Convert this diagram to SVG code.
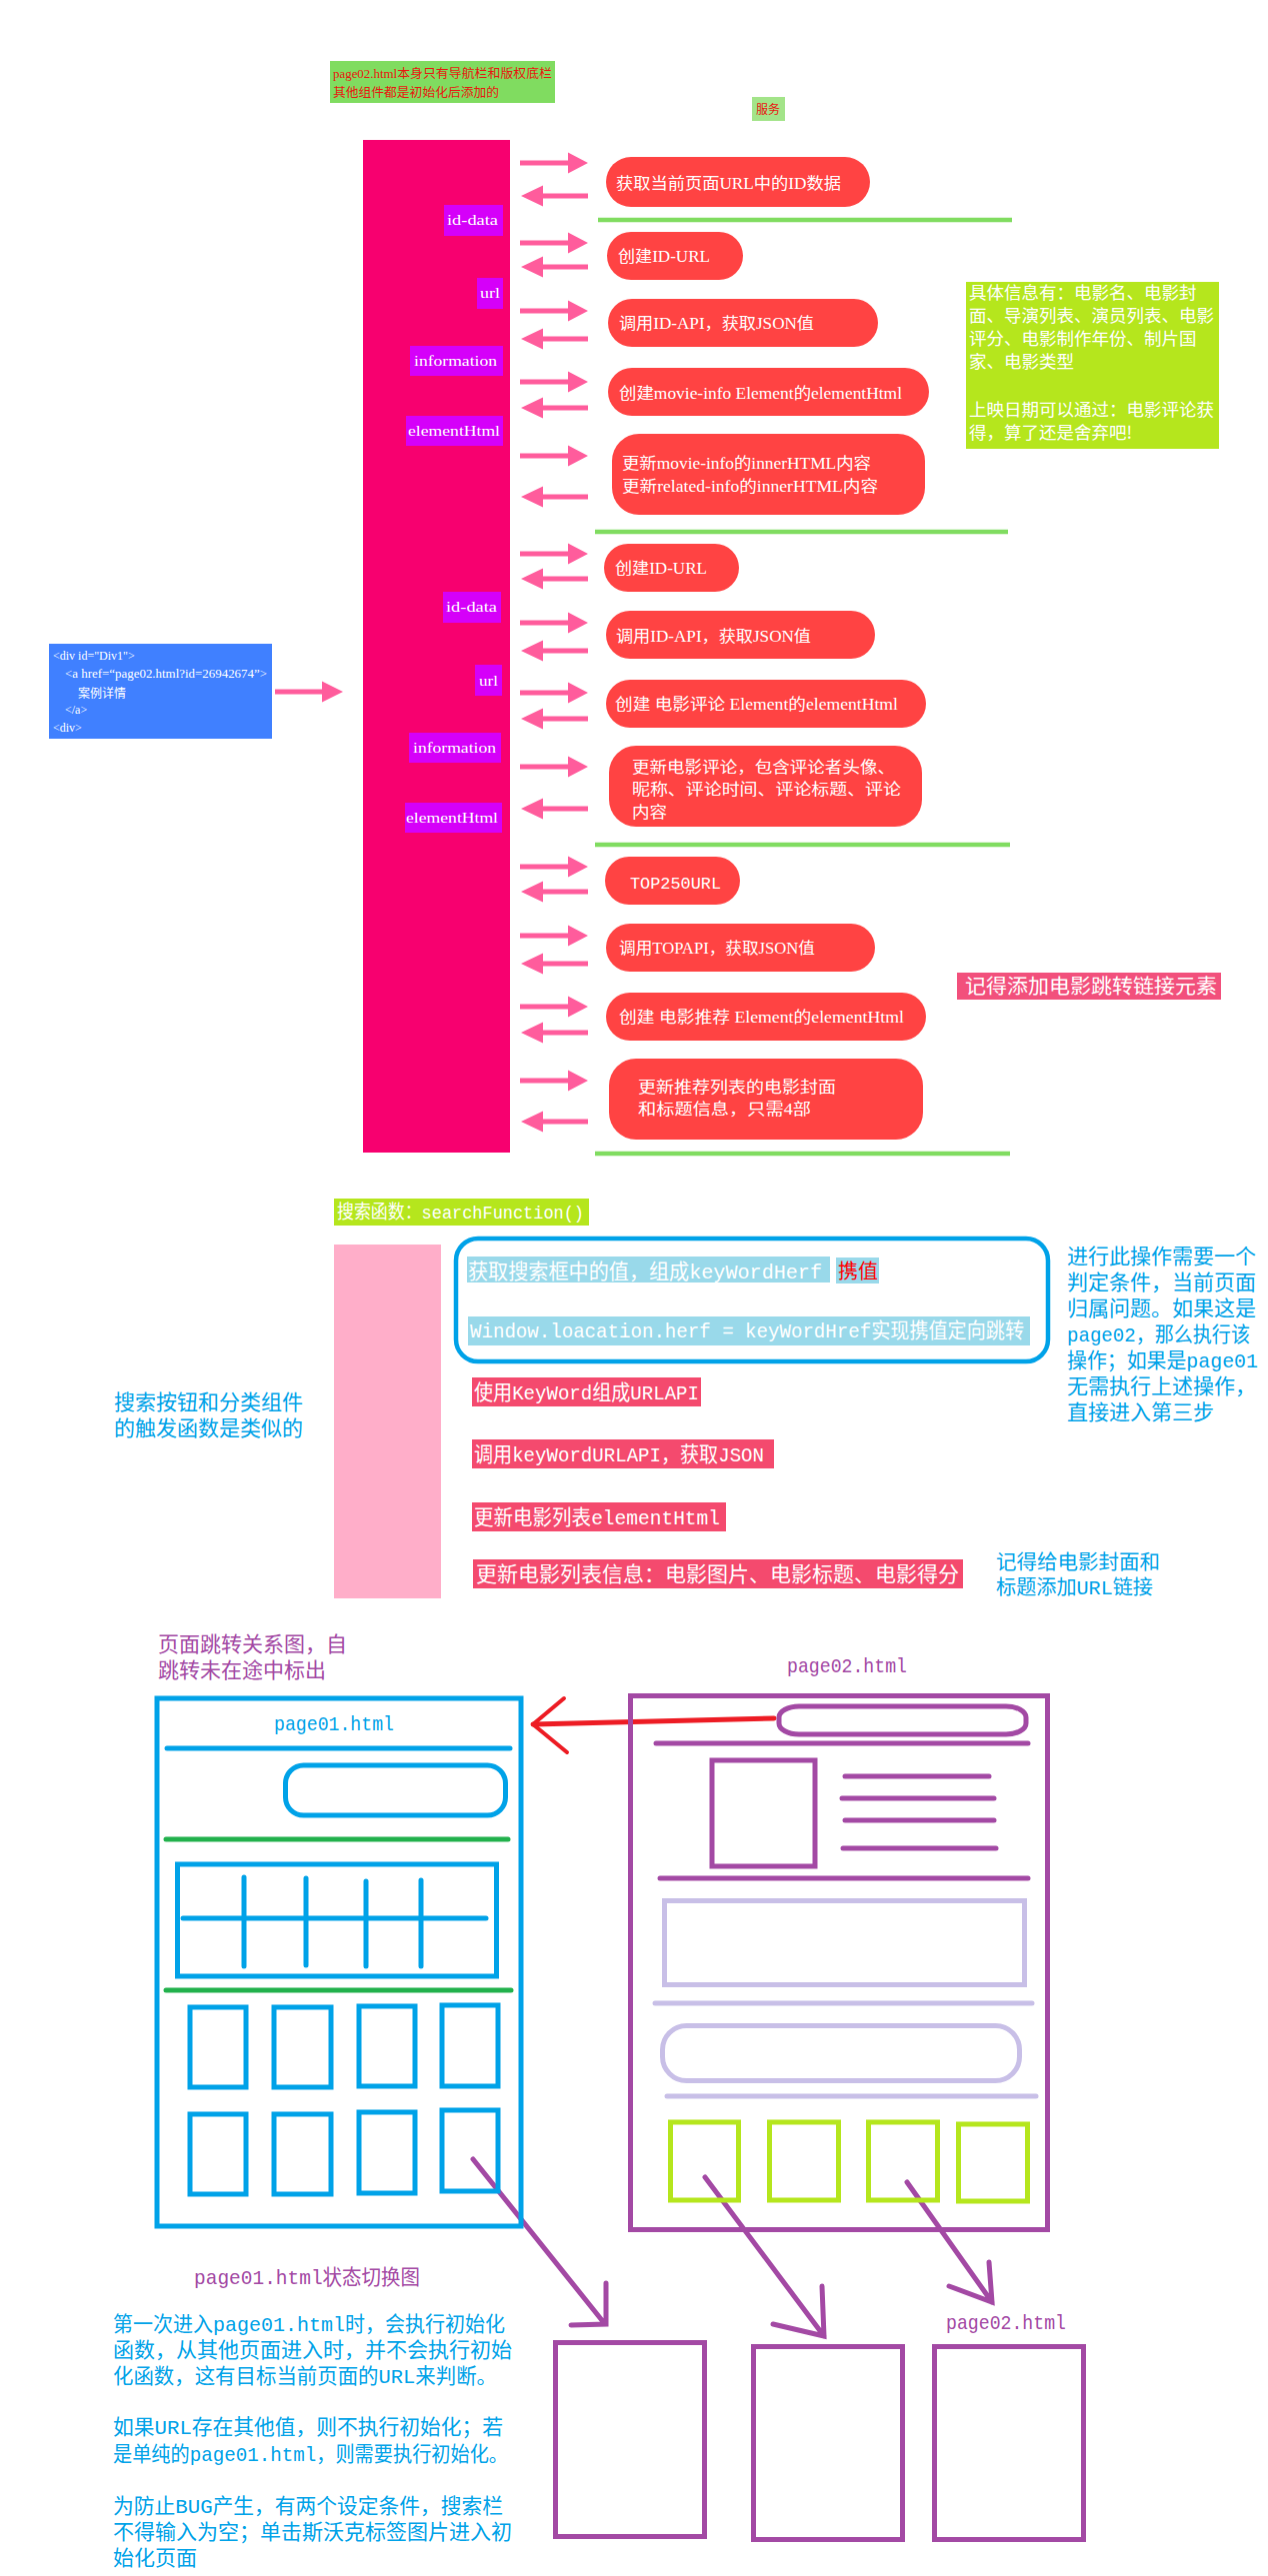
<svg xmlns="http://www.w3.org/2000/svg" width="1268" height="2577" viewBox="0 0 1268 2577">
<style>
.rb{fill:#ff4343}
.rt{font-family:"Liberation Serif","Noto Sans CJK SC",serif;font-size:16px;fill:#fff}
.lb{fill:#d500f9}
.lt{font-family:"Liberation Serif",serif;font-size:15px;fill:#fff}
.gl{stroke:#80dc60;stroke-width:4.5}
.ar{fill:#ff5c9c}
.mono{font-family:"Liberation Mono","Noto Sans CJK SC",monospace}
.cj{font-family:"Noto Sans CJK SC","Liberation Mono",sans-serif}
.pr{fill:#f44a6e}
.lbx{fill:#99d9ea}
.w{fill:#fff}
.fb{fill:#00a2e8}
.fp{fill:#a349a4}
.sb{fill:none;stroke:#00a2e8;stroke-width:5;stroke-linecap:round}
.sp{fill:none;stroke:#a349a4;stroke-width:5;stroke-linecap:round}
.slp{fill:none;stroke:#c8bfe7;stroke-width:5;stroke-linecap:round}
.sg{fill:none;stroke:#22b14c;stroke-width:5;stroke-linecap:round}
.sl{fill:none;stroke:#b5e61d;stroke-width:5}
</style>
<defs>
<path id="ra" class="ar" d="M0,-2.5 H48 V-10.5 L68,0 L48,10.5 V2.5 H0 Z"/>
<path id="la" class="ar" d="M0,0 L22,-10.5 V-2.5 H67 V2.5 H22 V10.5 Z"/>
</defs>
<rect width="1268" height="2577" fill="#fff"/>

<g id="note-top">
<rect x="330" y="61" width="225" height="42" fill="#80dc60"/>
<text x="333" y="78" font-family="Liberation Serif,Noto Sans CJK SC,serif" font-size="12.5" fill="#e8160f" textLength="219" lengthAdjust="spacingAndGlyphs">page02.html本身只有导航栏和版权底栏</text>
<text x="333" y="97" font-family="Liberation Serif,Noto Sans CJK SC,serif" font-size="12.5" fill="#e8160f" textLength="166" lengthAdjust="spacingAndGlyphs">其他组件都是初始化后添加的</text>
</g>
<g id="service-label">
<rect x="752" y="97" width="33" height="24" fill="#a3e489"/>
<text x="756" y="114" font-family="Noto Sans CJK SC,sans-serif" font-size="12" fill="#e8160f">服务</text>
</g>

<g id="page02-bar">
<rect x="363" y="140" width="147" height="1013" fill="#f7006f"/>
<rect class="lb" x="444" y="205" width="59" height="31"/><text class="lt" x="447" y="225" textLength="51" lengthAdjust="spacingAndGlyphs">id-data</text>
<rect class="lb" x="477" y="278" width="26" height="31"/><text class="lt" x="480" y="298" textLength="20" lengthAdjust="spacingAndGlyphs">url</text>
<rect class="lb" x="410" y="346" width="93" height="30"/><text class="lt" x="414" y="366" textLength="83" lengthAdjust="spacingAndGlyphs">information</text>
<rect class="lb" x="406" y="416" width="97" height="30"/><text class="lt" x="408" y="436" textLength="92" lengthAdjust="spacingAndGlyphs">elementHtml</text>
<rect class="lb" x="443" y="592" width="58" height="31"/><text class="lt" x="446" y="612" textLength="51" lengthAdjust="spacingAndGlyphs">id-data</text>
<rect class="lb" x="475" y="665" width="27" height="31"/><text class="lt" x="479" y="686" textLength="19" lengthAdjust="spacingAndGlyphs">url</text>
<rect class="lb" x="409" y="733" width="92" height="30"/><text class="lt" x="413" y="753" textLength="83" lengthAdjust="spacingAndGlyphs">information</text>
<rect class="lb" x="405" y="803" width="97" height="30"/><text class="lt" x="406" y="823" textLength="92" lengthAdjust="spacingAndGlyphs">elementHtml</text>
</g>

<g id="code-box">
<rect x="49" y="644" width="223" height="95" fill="#4080ff"/>
<g font-family="Liberation Serif,Noto Sans CJK SC,serif" font-size="12" fill="#fff">
<text x="53" y="660">&lt;div id="Div1"&gt;</text>
<text x="65" y="678" textLength="202" lengthAdjust="spacingAndGlyphs">&lt;a href=“page02.html?id=26942674”&gt;</text>
<text x="78" y="698">案例详情</text>
<text x="65" y="714">&lt;/a&gt;</text>
<text x="53" y="732">&lt;div&gt;</text>
</g>
</g>

<g id="step-get-id"><rect class="rb" x="606" y="157" width="264" height="50" rx="25"/><text class="rt" x="616" y="189" textLength="225" lengthAdjust="spacingAndGlyphs">获取当前页面URL中的ID数据</text></g>
<g id="step-create-idurl-1"><rect class="rb" x="607" y="232" width="136" height="48" rx="24"/><text class="rt" x="618" y="262" textLength="92" lengthAdjust="spacingAndGlyphs">创建ID-URL</text></g>
<g id="step-call-idapi-1"><rect class="rb" x="608" y="299" width="270" height="48" rx="24"/><text class="rt" x="619" y="329" textLength="195" lengthAdjust="spacingAndGlyphs">调用ID-API，获取JSON值</text></g>
<g id="step-create-movieinfo"><rect class="rb" x="608" y="368" width="321" height="48" rx="24"/><text class="rt" x="619" y="399" textLength="283" lengthAdjust="spacingAndGlyphs">创建movie-info Element的elementHtml</text></g>
<g id="step-update-movieinfo"><rect class="rb" x="612" y="434" width="313" height="81" rx="27"/><text class="rt" x="622" y="469" textLength="249" lengthAdjust="spacingAndGlyphs">更新movie-info的innerHTML内容</text><text class="rt" x="622" y="492" textLength="256" lengthAdjust="spacingAndGlyphs">更新related-info的innerHTML内容</text></g>

<g id="step-create-idurl-2"><rect class="rb" x="604" y="544" width="135" height="48" rx="24"/><text class="rt" x="615" y="574" textLength="92" lengthAdjust="spacingAndGlyphs">创建ID-URL</text></g>
<g id="step-call-idapi-2"><rect class="rb" x="606" y="611" width="269" height="48" rx="24"/><text class="rt" x="616" y="642" textLength="195" lengthAdjust="spacingAndGlyphs">调用ID-API，获取JSON值</text></g>
<g id="step-create-review"><rect class="rb" x="606" y="680" width="320" height="48" rx="24"/><text class="rt" x="615" y="710" textLength="283" lengthAdjust="spacingAndGlyphs">创建 电影评论 Element的elementHtml</text></g>
<g id="step-update-review"><rect class="rb" x="609" y="746" width="313" height="81" rx="27"/><text class="rt" x="632" y="773" textLength="263" lengthAdjust="spacingAndGlyphs">更新电影评论，包含评论者头像、</text><text class="rt" x="632" y="795" textLength="269" lengthAdjust="spacingAndGlyphs">昵称、评论时间、评论标题、评论</text><text class="rt" x="632" y="818" textLength="35" lengthAdjust="spacingAndGlyphs">内容</text></g>

<g id="step-top250url"><rect class="rb" x="605" y="857" width="135" height="48" rx="24"/><text class="rt mono" x="630" y="889" textLength="91" lengthAdjust="spacingAndGlyphs">TOP250URL</text></g>
<g id="step-call-topapi"><rect class="rb" x="606" y="924" width="269" height="48" rx="24"/><text class="rt" x="619" y="954" textLength="196" lengthAdjust="spacingAndGlyphs">调用TOPAPI，获取JSON值</text></g>
<g id="step-create-recommend"><rect class="rb" x="606" y="993" width="320" height="48" rx="24"/><text class="rt" x="619" y="1023" textLength="285" lengthAdjust="spacingAndGlyphs">创建 电影推荐 Element的elementHtml</text></g>
<g id="step-update-recommend"><rect class="rb" x="609" y="1059" width="314" height="81" rx="27"/><text class="rt" x="638" y="1093" textLength="198" lengthAdjust="spacingAndGlyphs">更新推荐列表的电影封面</text><text class="rt" x="638" y="1115" textLength="173" lengthAdjust="spacingAndGlyphs">和标题信息，只需4部</text></g>

<g id="note-link">
<rect x="957" y="973" width="264" height="27" fill="#f2507c"/>
<text class="cj" x="965" y="994" font-size="20" fill="#fff" textLength="252" lengthAdjust="spacingAndGlyphs">记得添加电影跳转链接元素</text>
</g>

<g id="note-info">
<rect x="966" y="282" width="253" height="167" fill="#b5e61d"/>
<g class="cj" font-size="17.5" fill="#fff">
<text x="969" y="299">具体信息有：电影名、电影封</text>
<text x="969" y="322">面、导演列表、演员列表、电影</text>
<text x="969" y="345">评分、电影制作年份、制片国</text>
<text x="969" y="368">家、电影类型</text>
<text x="969" y="416">上映日期可以通过：电影评论获</text>
<text x="969" y="439">得，算了还是舍弃吧!</text>
</g>
</g>

<g id="separators">
<line class="gl" x1="598" y1="220" x2="1012" y2="220"/>
<line class="gl" x1="595" y1="532" x2="1008" y2="532"/>
<line class="gl" x1="595" y1="845" x2="1010" y2="845"/>
<line class="gl" x1="595" y1="1154" x2="1010" y2="1154"/>
</g>

<g id="connectors">
<use href="#ra" x="520" y="163"/><use href="#la" x="521" y="196"/>
<use href="#ra" x="520" y="243"/><use href="#la" x="521" y="267"/>
<use href="#ra" x="520" y="311"/><use href="#la" x="521" y="339"/>
<use href="#ra" x="520" y="382"/><use href="#la" x="521" y="408"/>
<use href="#ra" x="520" y="456"/><use href="#la" x="521" y="497"/>
<use href="#ra" x="520" y="554"/><use href="#la" x="521" y="579"/>
<use href="#ra" x="520" y="623"/><use href="#la" x="521" y="651"/>
<use href="#ra" x="520" y="693"/><use href="#la" x="521" y="719"/>
<use href="#ra" x="520" y="767"/><use href="#la" x="521" y="809"/>
<use href="#ra" x="520" y="867"/><use href="#la" x="521" y="892"/>
<use href="#ra" x="520" y="936"/><use href="#la" x="521" y="964"/>
<use href="#ra" x="520" y="1007"/><use href="#la" x="521" y="1033"/>
<use href="#ra" x="520" y="1081"/><use href="#la" x="521" y="1122"/>
<path class="ar" d="M275,689.5 H322 V681.5 L343,692 L322,702.5 V694.5 H275 Z"/>
<path d="M774,1719 L533,1725" fill="none" stroke="#ed1c24" stroke-width="5" stroke-linecap="round"/>
<path d="M564,1699 L533,1725 L567,1753" fill="none" stroke="#ed1c24" stroke-width="4" stroke-linecap="round" stroke-linejoin="round"/>
<path class="sp" d="M473,2160 L605,2325 M606,2284 L606,2325 L571,2326"/>
<path class="sp" d="M705,2178 L824,2337 M822,2287 L824,2337 L773,2325"/>
<path class="sp" d="M907,2183 L992,2303 M989,2263 L992,2303 L949,2287"/>
</g>

<g id="search-title">
<rect x="334" y="1199" width="255" height="27" fill="#b5e61d"/>
<text class="mono" x="337" y="1219" font-size="19" fill="#fff" textLength="247" lengthAdjust="spacingAndGlyphs">搜索函数：searchFunction()</text>
</g>
<g id="search-bar"><rect x="334" y="1245" width="107" height="354" fill="#ffaec9"/></g>
<g id="search-left-note">
<text class="cj" x="114" y="1410" font-size="21" fill="#00a2e8">搜索按钮和分类组件</text>
<text class="cj" x="114" y="1436" font-size="21" fill="#00a2e8">的触发函数是类似的</text>
</g>
<g id="search-redirect-group">
<rect x="456" y="1239" width="592" height="123" rx="22" fill="none" stroke="#00a2e8" stroke-width="4.5"/>
<rect class="lbx" x="467" y="1257" width="363" height="26"/>
<text class="mono" x="468" y="1279" font-size="21" fill="#fff" textLength="354" lengthAdjust="spacingAndGlyphs">获取搜索框中的值，组成keyWordHerf</text>
<rect class="lbx" x="836" y="1258" width="43" height="26"/>
<text x="838" y="1279" font-family="Noto Sans CJK SC,sans-serif" font-size="20" fill="#ff0000">携值</text>
<rect class="lbx" x="468" y="1317" width="562" height="29"/>
<text class="mono" x="470" y="1338" font-size="21" fill="#fff" textLength="554" lengthAdjust="spacingAndGlyphs">Window.loacation.herf = keyWordHref实现携值定向跳转</text>
</g>
<g id="search-step-3"><rect class="pr" x="472" y="1378" width="229" height="29"/><text class="mono" x="474" y="1400" font-size="21" fill="#fff" textLength="225" lengthAdjust="spacingAndGlyphs">使用KeyWord组成URLAPI</text></g>
<g id="search-step-4"><rect class="pr" x="472" y="1440" width="302" height="29"/><text class="mono" x="474" y="1462" font-size="21" fill="#fff" textLength="290" lengthAdjust="spacingAndGlyphs">调用keyWordURLAPI，获取JSON</text></g>
<g id="search-step-5"><rect class="pr" x="472" y="1503" width="254" height="29"/><text class="mono" x="474" y="1525" font-size="21" fill="#fff" textLength="246" lengthAdjust="spacingAndGlyphs">更新电影列表elementHtml</text></g>
<g id="search-step-6"><rect class="pr" x="473" y="1560" width="490" height="29"/><text class="cj" x="476" y="1582" font-size="21" fill="#fff" textLength="483" lengthAdjust="spacingAndGlyphs">更新电影列表信息：电影图片、电影标题、电影得分</text></g>
<g id="search-right-note">
<g class="mono" font-size="21" fill="#00a2e8">
<text x="1067" y="1264">进行此操作需要一个</text>
<text x="1067" y="1290">判定条件，当前页面</text>
<text x="1067" y="1316">归属问题。如果这是</text>
<text x="1067" y="1342" textLength="183" lengthAdjust="spacingAndGlyphs">page02，那么执行该</text>
<text x="1067" y="1368" textLength="191" lengthAdjust="spacingAndGlyphs">操作；如果是page01</text>
<text x="1067" y="1394">无需执行上述操作，</text>
<text x="1067" y="1420">直接进入第三步</text>
</g>
</g>
<g id="search-link-note">
<text class="cj" x="996" y="1570" font-size="20.5" fill="#00a2e8">记得给电影封面和</text>
<text class="mono" x="996" y="1595" font-size="20.5" fill="#00a2e8" textLength="157" lengthAdjust="spacingAndGlyphs">标题添加URL链接</text>
</g>

<g id="relation-title">
<text class="cj" x="158" y="1652" font-size="21" fill="#a349a4">页面跳转关系图，自</text>
<text class="cj" x="158" y="1678" font-size="21" fill="#a349a4">跳转未在途中标出</text>
</g>

<g id="page01-sketch">
<rect class="sb" x="157" y="1699" width="364" height="528" stroke-width="5.5" stroke-linecap="butt"/>
<text class="mono" x="274" y="1731" font-size="21" fill="#00a2e8" textLength="120" lengthAdjust="spacingAndGlyphs">page01.html</text>
<line class="sb" x1="167" y1="1749" x2="510" y2="1749"/>
<rect class="sb" x="285.5" y="1766" width="220" height="50" rx="18"/>
<line class="sg" x1="166" y1="1840" x2="508" y2="1840"/>
<rect class="sb" x="177.5" y="1865" width="319" height="112" stroke-linecap="butt"/>
<line class="sb" x1="183" y1="1919" x2="486" y2="1919"/>
<line class="sb" x1="244" y1="1878" x2="244" y2="1967"/>
<line class="sb" x1="306" y1="1879" x2="306" y2="1966"/>
<line class="sb" x1="366" y1="1882" x2="366" y2="1967"/>
<line class="sb" x1="421" y1="1881" x2="421" y2="1967"/>
<line class="sg" x1="166" y1="1991" x2="511" y2="1991"/>
<g class="sb" stroke-linecap="butt" stroke-width="5.5">
<rect x="190" y="2008" width="56" height="80"/>
<rect x="274" y="2008" width="57" height="80"/>
<rect x="359" y="2007" width="56" height="80"/>
<rect x="442" y="2006" width="56" height="81"/>
<rect x="190" y="2115" width="56" height="80"/>
<rect x="274" y="2115" width="57" height="80"/>
<rect x="359" y="2113" width="56" height="81"/>
<rect x="442" y="2111" width="56" height="81"/>
</g>
</g>

<g id="page02-sketch">
<text class="mono" x="787" y="1673" font-size="21" fill="#a349a4" textLength="120" lengthAdjust="spacingAndGlyphs">page02.html</text>
<rect class="sp" x="630.5" y="1696.5" width="417" height="534" stroke-linecap="butt"/>
<rect class="sp" x="779" y="1707" width="247" height="28" rx="20" ry="11"/>
<line class="sp" x1="656" y1="1744" x2="1028" y2="1744"/>
<rect class="sp" x="712" y="1761" width="103" height="106" stroke-linecap="butt"/>
<line class="sp" x1="845" y1="1777" x2="989" y2="1777"/>
<line class="sp" x1="842" y1="1799" x2="994" y2="1799"/>
<line class="sp" x1="845" y1="1821" x2="994" y2="1821"/>
<line class="sp" x1="843" y1="1849" x2="996" y2="1849"/>
<line class="sp" x1="660" y1="1879" x2="1028" y2="1879"/>
<rect class="slp" x="664.5" y="1901.5" width="360" height="84" stroke-linecap="butt"/>
<line class="slp" x1="655" y1="2004" x2="1032" y2="2004"/>
<rect class="slp" x="662.5" y="2026.5" width="357" height="55" rx="24"/>
<line class="slp" x1="667" y1="2097" x2="1036" y2="2097"/>
<rect class="sl" x="670.5" y="2123" width="68" height="78"/>
<rect class="sl" x="769.5" y="2123" width="69" height="78"/>
<rect class="sl" x="868.5" y="2123" width="69" height="78"/>
<rect class="sl" x="958.5" y="2125" width="69" height="77"/>
</g>

<g id="state-title">
<text class="mono" x="194" y="2285" font-size="21" fill="#a349a4" textLength="226" lengthAdjust="spacingAndGlyphs">page01.html状态切换图</text>
</g>
<g id="state-desc">
<g class="mono" font-size="21" fill="#00a2e8">
<text x="113" y="2332" textLength="392" lengthAdjust="spacingAndGlyphs">第一次进入page01.html时，会执行初始化</text>
<text x="113" y="2358">函数，从其他页面进入时，并不会执行初始</text>
<text x="113" y="2384" textLength="384" lengthAdjust="spacingAndGlyphs">化函数，这有目标当前页面的URL来判断。</text>
<text x="113" y="2435" textLength="390" lengthAdjust="spacingAndGlyphs">如果URL存在其他值，则不执行初始化；若</text>
<text x="113" y="2462" textLength="395" lengthAdjust="spacingAndGlyphs">是单纯的page01.html，则需要执行初始化。</text>
<text x="113" y="2514" textLength="390" lengthAdjust="spacingAndGlyphs">为防止BUG产生，有两个设定条件，搜索栏</text>
<text x="113" y="2540">不得输入为空；单击斯沃克标签图片进入初</text>
<text x="113" y="2566">始化页面</text>
</g>
</g>

<g id="state-1"><rect class="sp" x="555.5" y="2343.5" width="149" height="194" stroke-width="5.5" stroke-linecap="butt"/></g>
<g id="state-2"><rect class="sp" x="753.5" y="2347.5" width="149" height="193" stroke-width="5.5" stroke-linecap="butt"/></g>
<g id="state-3">
<text class="mono" x="946" y="2330" font-size="21" fill="#a349a4" textLength="120" lengthAdjust="spacingAndGlyphs">page02.html</text>
<rect class="sp" x="934.5" y="2347.5" width="149" height="193" stroke-width="5.5" stroke-linecap="butt"/>
</g>
</svg>
